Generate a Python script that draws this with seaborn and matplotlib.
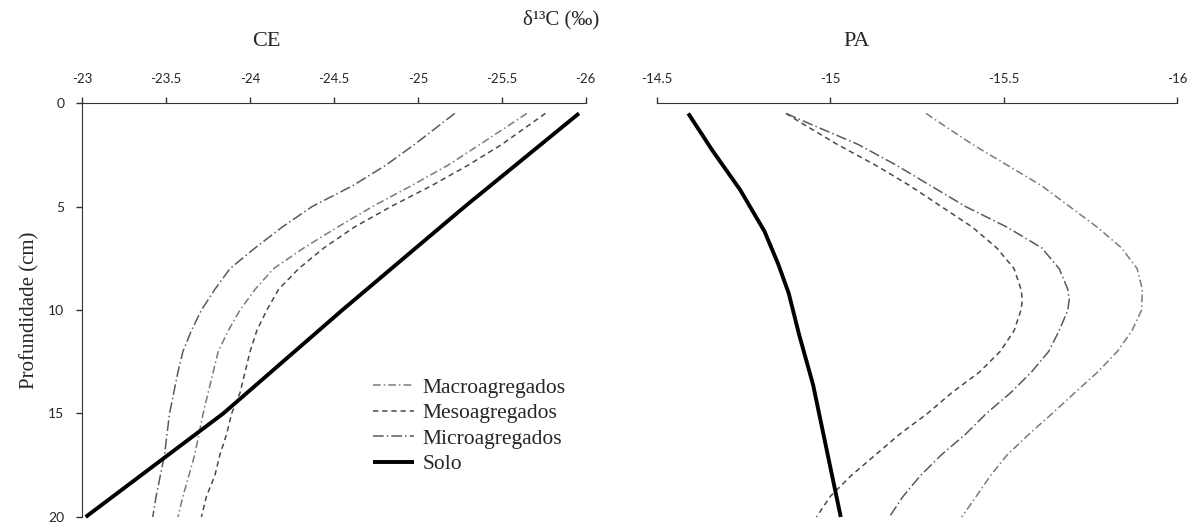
import numpy as np
import pandas as pd
import matplotlib
matplotlib.use("Agg")
import matplotlib.pyplot as plt
import seaborn as sns

# --- data (depth in cm, d13C in per mil) ---
series_names = ["Macroagregados", "Mesoagregados", "Microagregados", "Solo"]

# CE panel
ce_macro_prof = [0.5, 2, 3, 4, 5, 6, 7, 8, 9, 10, 11, 12, 13, 15, 17, 19, 20]
ce_macro_d13c = [-25.65, -25.37, -25.18, -24.96, -24.73, -24.52, -24.32, -24.14, -24.03, -23.94,
                 -23.87, -23.81, -23.78, -23.72, -23.67, -23.60, -23.57]
ce_meso_prof = [0.5, 2, 3, 4, 5, 6, 7, 8, 9, 10, 11, 12, 13, 14, 15, 16, 17, 18, 19, 20]
ce_meso_d13c = [-25.76, -25.50, -25.30, -25.08, -24.84, -24.62, -24.44, -24.29, -24.17, -24.10,
                -24.04, -24.00, -23.97, -23.94, -23.89, -23.86, -23.82, -23.79, -23.74, -23.71]
ce_micro_prof = [0.5, 2, 3, 4, 5, 6, 7, 8, 9, 10, 11, 12, 13, 15, 17, 19, 20]
ce_micro_d13c = [-25.22, -24.98, -24.81, -24.61, -24.37, -24.19, -24.03, -23.88, -23.79, -23.71,
                 -23.65, -23.60, -23.57, -23.52, -23.49, -23.44, -23.42]
ce_solo_prof = [0.5, 5.0, 10.0, 15.0, 20.0]
ce_solo_d13c = [-25.96, -25.28, -24.55, -23.84, -23.02]

# PA panel
pa_macro_prof = [0.5, 1, 2, 3, 4, 5, 6, 7, 8, 9, 10, 11, 12, 13, 14, 15, 16, 17, 18, 19, 20]
pa_macro_d13c = [-15.276, -15.32, -15.41, -15.51, -15.61, -15.69, -15.77, -15.84, -15.885, -15.90,
                 -15.898, -15.87, -15.828, -15.771, -15.705, -15.640, -15.573, -15.510, -15.462,
                 -15.421, -15.379]
pa_meso_prof = [0.5, 1, 2, 3, 4, 5, 6, 7, 8, 9, 9.5, 10, 11, 12, 13, 14, 15, 16, 17, 18, 19, 20]
pa_meso_d13c = [-14.872, -14.92, -15.02, -15.13, -15.23, -15.32, -15.41, -15.48, -15.53, -15.55,
                -15.554, -15.55, -15.53, -15.49, -15.43, -15.35, -15.28, -15.20, -15.13, -15.06,
                -15.00, -14.96]
pa_micro_prof = [0.5, 1, 2, 3, 4, 5, 6, 7, 8, 9, 9.5, 10, 11, 12, 13, 14, 15, 16, 17, 18, 19, 20]
pa_micro_d13c = [-14.872, -14.94, -15.08, -15.19, -15.29, -15.39, -15.51, -15.61, -15.66, -15.685,
                 -15.689, -15.685, -15.66, -15.63, -15.58, -15.52, -15.45, -15.39, -15.32, -15.26,
                 -15.21, -15.17]
pa_solo_prof = [0.5, 2.3, 4.2, 6.2, 7.8, 9.2, 11.2, 13.6, 16.0, 18.4, 20.0]
pa_solo_d13c = [-14.59, -14.66, -14.74, -14.81, -14.85, -14.88, -14.91, -14.95, -14.98, -15.01, -15.03]

ce_ticks = [-23, -23.5, -24, -24.5, -25, -25.5, -26]
ce_ticklabels = ["-23", "-23.5", "-24", "-24.5", "-25", "-25.5", "-26"]
pa_ticks = [-14.5, -15, -15.5, -16]
pa_ticklabels = ["-14.5", "-15", "-15.5", "-16"]
y_ticks = [0, 5, 10, 15, 20]


def long_df(parts):
    rows = []
    for name, prof, d13c in parts:
        for p, v in zip(prof, d13c):
            rows.append({"serie": name, "prof": p, "d13C": v})
    return pd.DataFrame(rows)


ce_df = long_df([("Macroagregados", ce_macro_prof, ce_macro_d13c),
                 ("Mesoagregados", ce_meso_prof, ce_meso_d13c),
                 ("Microagregados", ce_micro_prof, ce_micro_d13c),
                 ("Solo", ce_solo_prof, ce_solo_d13c)])
pa_df = long_df([("Macroagregados", pa_macro_prof, pa_macro_d13c),
                 ("Mesoagregados", pa_meso_prof, pa_meso_d13c),
                 ("Microagregados", pa_micro_prof, pa_micro_d13c),
                 ("Solo", pa_solo_prof, pa_solo_d13c)])

sns.set_style("white")
plt.rcParams["font.family"] = ["Liberation Serif", "DejaVu Serif"]

palette = {"Macroagregados": "#7a7a7a", "Mesoagregados": "#4a4a4a",
           "Microagregados": "#5a5a5a", "Solo": "#000000"}
dashes = {"Macroagregados": (5, 2, 1, 2), "Mesoagregados": (3.5, 2.5),
          "Microagregados": (7, 2, 1, 2), "Solo": ""}
sizes = {"Macroagregados": 1.1, "Mesoagregados": 1.1, "Microagregados": 1.1, "Solo": 2.8}

fig = plt.figure(figsize=(11.89, 5.23), dpi=100)
ax1 = fig.add_axes([0.0692, 0.0115, 0.4234, 0.7915])
ax2 = fig.add_axes([0.5526, 0.0115, 0.4373, 0.7915])

for ax, df in [(ax1, ce_df), (ax2, pa_df)]:
    sns.lineplot(data=df, x="d13C", y="prof", hue="serie", style="serie", size="serie",
                 hue_order=series_names, style_order=series_names, size_order=series_names,
                 palette=palette, dashes=dashes, sizes=sizes, orient="y",
                 estimator=None, legend=False, ax=ax)
    ax.set_ylim(20, 0)
    ax.xaxis.tick_top()
    ax.set_xlabel("")
    ax.set_ylabel("")
    for s in ["right", "bottom"]:
        ax.spines[s].set_visible(False)
    ax.spines["top"].set_color("#333333")
    ax.spines["left"].set_color("#333333")
    ax.tick_params(axis="x", direction="out", length=4, width=1, color="#333333",
                   pad=9, labelsize=9.5)
    for line in ax.get_lines():
        line.set_clip_on(False)
        line.set_solid_capstyle("butt")

ax1.set_xlim(-23, -26)
ax1.set_xticks(ce_ticks)
ax1.set_xticklabels(ce_ticklabels, family="Lato", fontsize=9.5)
ax1.set_yticks(y_ticks)
ax1.set_yticklabels([str(v) for v in y_ticks], family="Lato", fontsize=10)
ax1.tick_params(axis="y", direction="out", length=4, width=1, color="#333333", pad=9, left=True)
ax1.set_ylabel("Profundidade (cm)", fontsize=15, labelpad=6)

ax2.set_xlim(-14.5, -16)
ax2.set_xticks(pa_ticks)
ax2.set_xticklabels(pa_ticklabels, family="Lato", fontsize=9.5)
ax2.spines["left"].set_visible(False)
ax2.set_yticks([])

fig.text(266 / 1189, 1 - 42 / 523, "CE", ha="center", va="center", fontsize=16)
fig.text(857 / 1189, 1 - 42 / 523, "PA", ha="center", va="center", fontsize=16)
fig.text(561 / 1189, 1 - 20 / 523, "δ¹³C (‰)", ha="center", va="center", fontsize=15)

handles = ax1.get_lines()[:4]
ax1.legend(handles, series_names, loc="center left", bbox_to_anchor=(0.577, 0.22),
           frameon=False, fontsize=15.5, handlelength=1.9, handletextpad=0.4,
           labelspacing=0.25, borderpad=0, borderaxespad=0)

fig.savefig("out.png", dpi=100)
